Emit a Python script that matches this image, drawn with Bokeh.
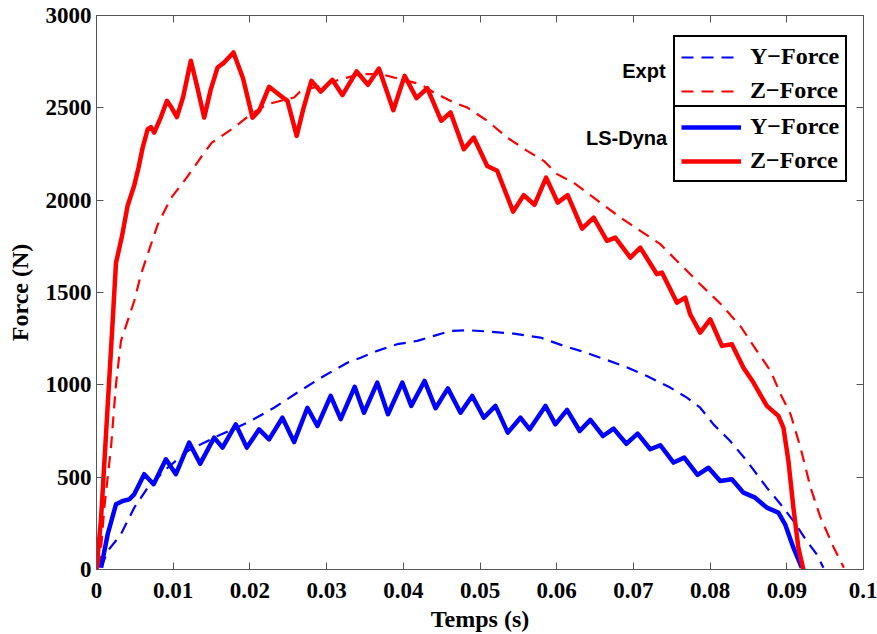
from bokeh.plotting import figure
from bokeh.models import LinearAxis, FixedTicker, Legend, LegendItem, Label, Range1d
from bokeh.embed import file_html
from bokeh.resources import INLINE

# ---- data ----
x_ticks = [0, 0.01, 0.02, 0.03, 0.04, 0.05, 0.06, 0.07, 0.08, 0.09, 0.1]
x_tick_labels = ["0", "0.01", "0.02", "0.03", "0.04", "0.05", "0.06", "0.07", "0.08", "0.09", "0.1"]
y_ticks = [0, 500, 1000, 1500, 2000, 2500, 3000]

# Experimental Y-force (blue dashed)
expt_y_t = [0.0006, 0.00146, 0.00319, 0.00492, 0.00667, 0.00927, 0.01188, 0.01578, 0.01969,
            0.02315, 0.02663, 0.02966, 0.03271, 0.03444, 0.03661, 0.03922, 0.04182, 0.04398,
            0.04616, 0.04833, 0.05137, 0.0544, 0.05788, 0.06091, 0.06309, 0.06569, 0.06873,
            0.07177, 0.0748, 0.07698, 0.07871, 0.08044, 0.08262, 0.08479, 0.0874, 0.08919,
            0.09086, 0.0926, 0.09391, 0.09477]
expt_y_f = [10, 100, 191, 335, 443, 551, 642, 723, 795,
            876, 970, 1048, 1120, 1147, 1184, 1220, 1238, 1265,
            1292, 1296, 1288, 1277, 1256, 1211, 1184, 1147, 1102,
            1048, 985, 931, 876, 786, 696, 588, 443, 353,
            263, 154, 82, 10]

# Experimental Z-force (red dashed)
expt_z_t = [0.0004, 0.00102, 0.00189, 0.00254, 0.00319, 0.00406, 0.00492, 0.0058, 0.00667,
            0.0080, 0.0097, 0.0119, 0.0136, 0.0150, 0.01794, 0.02012, 0.02229, 0.02576,
            0.02663, 0.02923, 0.03184, 0.03444, 0.03704, 0.03878, 0.04052, 0.04225, 0.04398,
            0.04659, 0.04833, 0.05094, 0.05354, 0.05615, 0.05831, 0.06005, 0.06221, 0.06482,
            0.0683, 0.0709, 0.07351, 0.07611, 0.07871, 0.08132, 0.08392, 0.0861, 0.08789,
            0.08919, 0.09049, 0.09179, 0.0931, 0.0944, 0.09613, 0.09744]
expt_z_f = [10, 335, 660, 1003, 1238, 1346, 1454, 1599, 1707,
            1870, 2010, 2130, 2231, 2310, 2393, 2466, 2520, 2556,
            2592, 2619, 2655, 2683, 2683, 2664, 2646, 2628, 2583,
            2529, 2502, 2430, 2339, 2267, 2213, 2141, 2095, 2014,
            1906, 1834, 1762, 1653, 1545, 1440, 1320, 1184, 1075,
            949, 841, 660, 443, 281, 118, 10]

# LS-Dyna Y-force (blue solid)
dyna_y_t = [0.0006, 0.00146, 0.00254, 0.00341, 0.00427, 0.00492, 0.00622, 0.00745, 0.00905,
            0.01035, 0.01208, 0.01352, 0.01534, 0.01643, 0.01816, 0.0196, 0.0212, 0.0225,
            0.02424, 0.02576, 0.0275, 0.0288, 0.03053, 0.03184, 0.03366, 0.03487, 0.03661,
            0.038, 0.03987, 0.04104, 0.04277, 0.04421, 0.04581, 0.04746, 0.04898, 0.0505,
            0.05202, 0.05362, 0.05527, 0.05648, 0.05853, 0.05983, 0.06135, 0.063, 0.06439,
            0.06604, 0.06742, 0.06908, 0.07055, 0.0722, 0.0735, 0.07524, 0.07663, 0.07836,
            0.07979, 0.08132, 0.08284, 0.08435, 0.08587, 0.0874, 0.0889, 0.08978, 0.09086,
            0.09195]
dyna_y_f = [10, 191, 353, 371, 380, 407, 516, 462, 597,
            516, 687, 573, 714, 660, 786, 660, 759, 705,
            822, 690, 876, 777, 940, 814, 989, 849, 1012,
            841, 1012, 886, 1021, 873, 981, 849, 940, 822,
            886, 741, 822, 759, 886, 786, 864, 750, 810,
            723, 763, 681, 736, 651, 673, 579, 606, 512,
            551, 479, 489, 416, 389, 335, 308, 245, 118,
            10]

# LS-Dyna Z-force (red solid)
dyna_z_t = [0.0, 0.0006, 0.00124, 0.00211, 0.00254, 0.0033, 0.00406, 0.00492, 0.0055,
            0.00602, 0.00667, 0.0071, 0.00753, 0.0084, 0.00918, 0.0098, 0.01048, 0.0113,
            0.0123, 0.0131, 0.01404, 0.0149, 0.01578, 0.01664, 0.01786, 0.0191, 0.02034,
            0.0212, 0.0225, 0.024, 0.0249, 0.0261, 0.027, 0.02802, 0.02923, 0.03075,
            0.03206, 0.03392, 0.03539, 0.03683, 0.0387, 0.04017, 0.04173, 0.04313, 0.04495,
            0.04616, 0.04789, 0.04919, 0.05094, 0.05224, 0.05432, 0.0557, 0.0571, 0.05862,
            0.06013, 0.06143, 0.06331, 0.06482, 0.06656, 0.06764, 0.0696, 0.0709, 0.07307,
            0.07372, 0.07568, 0.07676, 0.0774, 0.07871, 0.08001, 0.08154, 0.08284, 0.08435,
            0.08565, 0.0874, 0.0889, 0.08956, 0.09021, 0.09086, 0.09151, 0.09216]
dyna_z_f = [0, 281, 732, 1346, 1660, 1800, 1970, 2080, 2180,
            2285, 2384, 2395, 2366, 2450, 2538, 2500, 2450, 2560,
            2755, 2620, 2447, 2600, 2718, 2745, 2800, 2660, 2447,
            2484, 2614, 2565, 2538, 2348, 2500, 2646, 2588, 2652,
            2569, 2697, 2625, 2713, 2487, 2673, 2552, 2607, 2430,
            2475, 2276, 2339, 2185, 2159, 1938, 2027, 1975, 2122,
            1987, 2027, 1846, 1906, 1780, 1797, 1689, 1743, 1599,
            1608, 1445, 1472, 1382, 1283, 1355, 1211, 1220, 1093,
            1012, 886, 832, 768, 588, 335, 118, 0]

series_names = ["Y\u2212Force", "Z\u2212Force"]
group_names = ["Expt", "LS-Dyna"]

# ---- figure ----
AX = "#555555"
SERIF = "Liberation Serif"

p = figure(width=877, height=634, output_backend="svg", toolbar_location=None,
           x_range=Range1d(0, 0.1), y_range=Range1d(0, 3000),
           min_border_left=96, min_border_right=14, min_border_top=15, min_border_bottom=65,
           x_axis_label="Temps (s)", y_axis_label="Force (N)")
p.grid.visible = False
p.outline_line_color = AX
p.outline_line_width = 1
p.background_fill_color = "white"
p.border_fill_color = "white"

for ax in p.xaxis + p.yaxis:
    ax.axis_line_color = AX
    ax.major_tick_line_color = AX
    ax.major_tick_in = 7
    ax.major_tick_out = 0
    ax.minor_tick_line_color = None
    ax.major_label_text_font = SERIF
    ax.major_label_text_font_style = "bold"
    ax.major_label_text_font_size = "23px"
    ax.major_label_text_color = "black"
    ax.axis_label_text_font = SERIF
    ax.axis_label_text_font_style = "bold"
    ax.axis_label_text_font_size = "24px"
    ax.axis_label_text_color = "black"

p.xaxis.ticker = FixedTicker(ticks=x_ticks)
p.xaxis.major_label_overrides = {t: l for t, l in zip(x_ticks, x_tick_labels)}
p.xaxis.major_label_standoff = 13
p.xaxis.axis_label_standoff = 5
p.yaxis.ticker = FixedTicker(ticks=y_ticks)
p.yaxis.major_label_standoff = 5
p.yaxis.axis_label_standoff = 10

top = LinearAxis(ticker=FixedTicker(ticks=x_ticks), major_label_text_color=None,
                 major_label_standoff=0, major_tick_in=7, major_tick_out=0,
                 minor_tick_line_color=None, axis_line_color=AX, major_tick_line_color=AX)
right = LinearAxis(ticker=FixedTicker(ticks=y_ticks), major_label_text_color=None,
                   major_label_standoff=0, major_tick_in=7, major_tick_out=0,
                   minor_tick_line_color=None, axis_line_color=AX, major_tick_line_color=AX)
p.add_layout(top, "above")
p.add_layout(right, "right")

BLUE = "#0000ff"
RED = "#ff0000"

r_ey = p.line(expt_y_t, expt_y_f, line_color=BLUE, line_width=2.2, line_dash="12 8")
r_ez = p.line(expt_z_t, expt_z_f, line_color=RED, line_width=2.2, line_dash="12 8")
r_dy = p.line(dyna_y_t, dyna_y_f, line_color=BLUE, line_width=4.5, line_join="round")
r_dz = p.line(dyna_z_t, dyna_z_f, line_color=RED, line_width=4.5, line_join="round")

def make_legend(items, loc):
    lg = Legend(items=items, location=loc, orientation="vertical",
                border_line_color="black", border_line_width=2, border_line_alpha=1,
                background_fill_color="white", background_fill_alpha=1,
                label_text_font=SERIF, label_text_font_style="bold",
                label_text_font_size="24px", label_text_color="black",
                glyph_width=60, glyph_height=26, label_height=26,
                label_standoff=9, spacing=7, padding=6, margin=0)
    return lg

leg1 = make_legend([LegendItem(label=series_names[0], renderers=[r_ey]),
                    LegendItem(label=series_names[1], renderers=[r_ez])], (577, 457))
leg2 = make_legend([LegendItem(label=series_names[0], renderers=[r_dy]),
                    LegendItem(label=series_names[1], renderers=[r_dz])], (577, 387))
p.add_layout(leg1)
p.add_layout(leg2)

for name, xx, yy in [(group_names[0], 0.0742, 2700), (group_names[1], 0.0744, 2335)]:
    p.add_layout(Label(x=xx, y=yy, text=name, text_align="right", text_baseline="middle",
                       text_font="Liberation Sans", text_font_style="bold",
                       text_font_size="20px", text_color="black"))

open("out.html", "w").write(file_html(p, INLINE))
